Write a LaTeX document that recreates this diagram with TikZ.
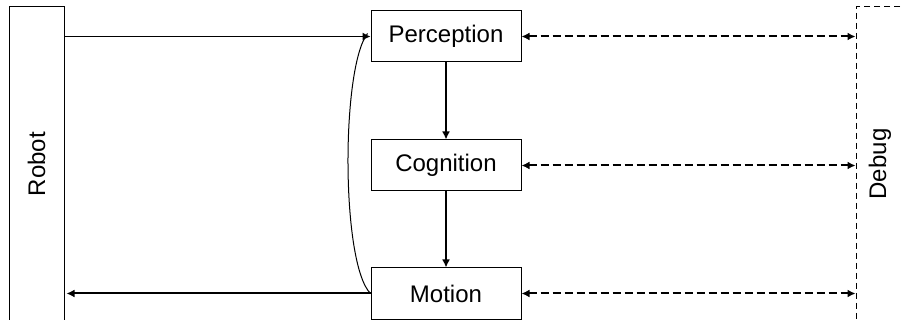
\documentclass[tikz,border=0pt]{standalone}
\usepackage{fontspec}
\setmainfont{Liberation Sans}
\usetikzlibrary{arrows.meta}
\begin{document}
\begin{tikzpicture}[x=1pt,y=-1pt,
  lbl/.style={font=\fontsize{24}{28}\selectfont},
  box/.style={draw,line width=1pt,minimum width=150pt,minimum height=51pt,inner sep=0pt,lbl},
  arr/.style={line width=2pt,-{Latex[length=8pt,width=8pt]}},
  thinarr/.style={line width=1.2pt,-{Latex[length=8pt,width=8pt]}},
  darr/.style={line width=2pt,dash pattern=on 8pt off 4pt,{Latex[length=8pt,width=8pt]}-{Latex[length=8pt,width=8pt]}}]
\useasboundingbox (0,0) rectangle (902,320);
\node[box] (per) at (446,36.5) {Perception};
\node[box] (cog) at (446,165.5) {Cognition};
\node[box] (mot) at (446,293.5) {Motion};
\node[draw,line width=1pt,inner sep=0pt,minimum width=55pt,minimum height=314pt] (rob) at (36.5,164) {};
\node[rotate=90,lbl] (robl) at (rob.center) {Robot};
\node[draw,dash pattern=on 6pt off 4pt,line width=1pt,minimum width=50pt,minimum height=314pt,inner sep=0pt] (dbg) at (881,164) {};
\node[rotate=90,lbl] (dbgl) at (880,164) {Debug};
\draw[thinarr] (rob.east |- per.west) -- (per.west);
\draw[arr] (mot.west) -- ([xshift=2pt]rob.east |- mot.west);
\draw[line width=1pt] (mot.west) .. controls (341,264) and (341,68) .. ([xshift=-3pt,yshift=3pt]per.west);
\draw[arr] (per.south) -- (cog.north);
\draw[arr] (cog.south) -- (mot.north);
\draw[darr] (per.east) -- (dbg.west |- per.east);
\draw[darr] (cog.east) -- (dbg.west |- cog.east);
\draw[darr] (mot.east) -- (dbg.west |- mot.east);
\end{tikzpicture}
\end{document}
